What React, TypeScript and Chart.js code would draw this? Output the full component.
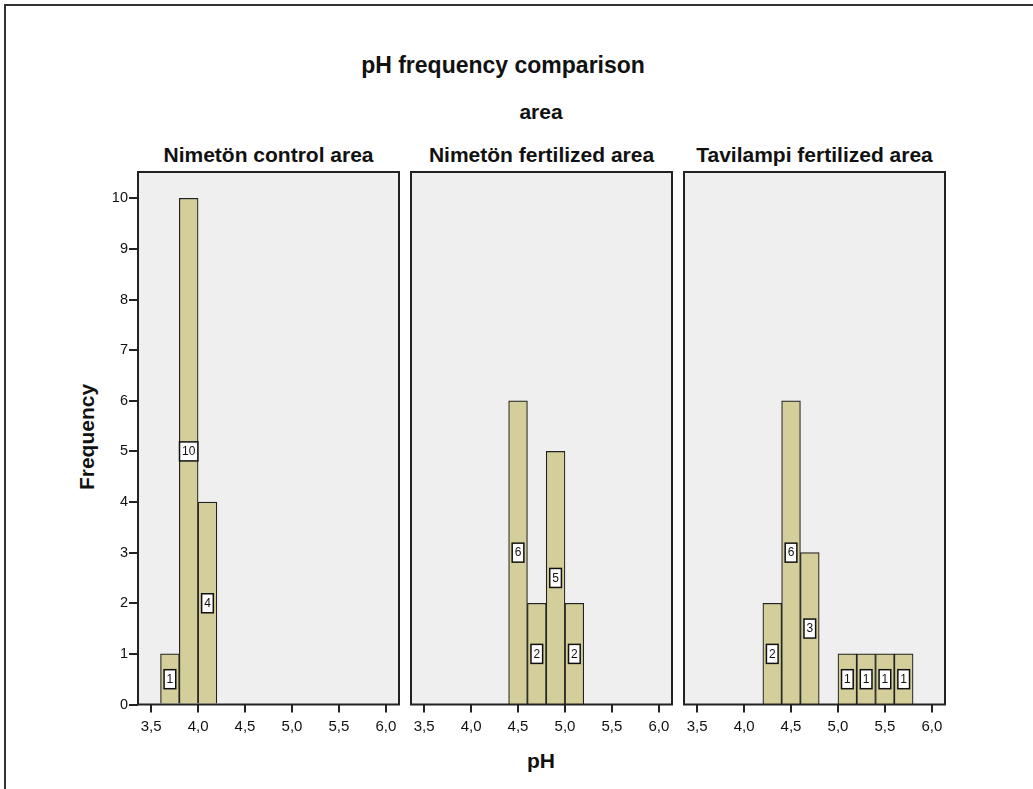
import { useEffect, useRef } from "react";
import { Chart, registerables } from "chart.js";

Chart.register(...registerables);

// ---- data ----
const chartTitle = "pH frequency comparison";
const facetTitle = "area";
const xAxisTitle = "pH";
const yAxisTitle = "Frequency";
const panelTitles = ["Nimetön control area", "Nimetön fertilized area", "Tavilampi fertilized area"];
const binWidth = 0.2;
const binStarts1 = [3.6, 3.8, 4.0];
const counts1 = [1, 10, 4];
const binStarts2 = [4.4, 4.6, 4.8, 5.0];
const counts2 = [6, 2, 5, 2];
const binStarts3 = [4.2, 4.4, 4.6, 5.0, 5.2, 5.4, 5.6];
const counts3 = [2, 6, 3, 1, 1, 1, 1];
const phTicks = [3.5, 4.0, 4.5, 5.0, 5.5, 6.0];
const freqTicks = [0, 1, 2, 3, 4, 5, 6, 7, 8, 9, 10];
const xMin = 3.36;
const xMax = 6.14;
const yMax = 10.52;

const panelBins = [binStarts1, binStarts2, binStarts3];
const panelCounts = [counts1, counts2, counts3];

// ---- layout ----
const FONT = "'Liberation Sans', Arial, Helvetica, sans-serif";
const panelLefts = [138, 411, 684];
const panelWidth = 261;
const canvasTop = 165;
const canvasHeight = 590;
const padTop = 7;
const xAxisHeight = 50.5;
const padRight = 4;
const barFill = "#D3CE9A";
const panelBg = "#EFEFEF";
const ink = "#222222";

const panelPlugin = {
  id: "panelDeco",
  beforeDraw(chart: any) {
    const { ctx, chartArea } = chart;
    ctx.save();
    ctx.fillStyle = panelBg;
    ctx.fillRect(chartArea.left, chartArea.top, chartArea.right - chartArea.left, chartArea.bottom - chartArea.top);
    ctx.restore();
  },
  afterDatasetsDraw(chart: any) {
    const { ctx, chartArea } = chart;
    ctx.save();
    ctx.strokeStyle = ink;
    ctx.lineWidth = 2;
    ctx.strokeRect(chartArea.left, chartArea.top, chartArea.right - chartArea.left, chartArea.bottom - chartArea.top);
    // value labels
    const meta = chart.getDatasetMeta(0);
    const ds = chart.data.datasets[0];
    const yScale = chart.scales.y;
    ctx.font = `12px ${FONT}`;
    ctx.textAlign = "center";
    ctx.textBaseline = "middle";
    meta.data.forEach((el: any, i: number) => {
      const v = ds.data[i].y;
      const txt = String(v);
      const cx = el.x;
      const cy = yScale.getPixelForValue(v / 2);
      const w = ctx.measureText(txt).width + 5;
      const h = 19;
      ctx.fillStyle = "#FFFFFF";
      ctx.fillRect(cx - w / 2, cy - h / 2, w, h);
      ctx.strokeStyle = "#111";
      ctx.lineWidth = 1.5;
      ctx.strokeRect(cx - w / 2, cy - h / 2, w, h);
      ctx.fillStyle = "#111";
      ctx.fillText(txt, cx, cy + 0.5);
    });
    ctx.restore();
  },
};

function Panel({ index }: { index: number }) {
  const ref = useRef<HTMLCanvasElement>(null);
  const showY = index === 0;
  const yW = showY ? 42 : 4;
  const left = panelLefts[index] - yW;
  const width = yW + panelWidth + padRight;

  useEffect(() => {
    const bins = panelBins[index];
    const counts = panelCounts[index];
    const chart = new Chart(ref.current as HTMLCanvasElement, {
      type: "bar",
      data: {
        datasets: [
          {
            data: bins.map((b, i) => ({ x: b + binWidth / 2, y: counts[i] })),
            backgroundColor: barFill,
            borderColor: ink,
            borderWidth: 1.2,
            borderSkipped: "start",
            barPercentage: 1,
            categoryPercentage: 1,
          } as any,
        ],
      },
      options: {
        responsive: false,
        animation: false,
        events: [],
        layout: { padding: { top: padTop, right: padRight, left: 0, bottom: 0 } },
        plugins: { legend: { display: false }, tooltip: { enabled: false }, title: { display: false } },
        scales: {
          x: {
            type: "linear",
            min: xMin,
            max: xMax,
            offset: false,
            border: { display: false },
            grid: { offset: false, drawOnChartArea: false, drawTicks: true, tickLength: 8, color: ink, lineWidth: 2 },
            ticks: {
              font: { family: FONT, size: 15 },
              color: "#111",
              padding: 5,
              maxRotation: 0,
              autoSkip: false,
              callback: (v: any) => Number(v).toFixed(1).replace(".", ","),
            },
            afterBuildTicks: (s: any) => {
              s.ticks = phTicks.map((v) => ({ value: v }));
            },
            afterFit: (s: any) => {
              s.height = xAxisHeight;
              s.paddingLeft = 0;
              s.paddingRight = 0;
            },
          },
          y: {
            type: "linear",
            min: 0,
            max: yMax,
            border: { display: false },
            grid: { display: showY, drawOnChartArea: false, drawTicks: true, tickLength: 9, color: ink, lineWidth: 2 },
            ticks: {
              display: showY,
              font: { family: FONT, size: 14.5 },
              color: "#111",
              padding: 1,
              callback: (v: any) => String(v),
            },
            afterBuildTicks: (s: any) => {
              s.ticks = freqTicks.map((v) => ({ value: v }));
            },
            afterFit: (s: any) => {
              s.width = yW;
              s.paddingTop = 0;
              s.paddingBottom = 0;
            },
          },
        },
      } as any,
      plugins: [panelPlugin],
    });
    return () => chart.destroy();
  }, [index]);

  return (
    <canvas
      ref={ref}
      width={width}
      height={canvasHeight}
      style={{ position: "absolute", left, top: canvasTop, width, height: canvasHeight }}
    />
  );
}

function Label({ text, x, y, size, rotate }: { text: string; x: number; y: number; size: number; rotate?: boolean }) {
  return (
    <div
      style={{
        position: "absolute",
        left: x,
        top: y,
        transform: `translate(-50%, -50%)${rotate ? " rotate(-90deg)" : ""}`,
        fontFamily: FONT,
        fontWeight: "bold",
        fontSize: size,
        lineHeight: 1,
        whiteSpace: "nowrap",
        color: "#111",
      }}
    >
      {text}
    </div>
  );
}

export default function App() {
  return (
    <div style={{ position: "absolute", left: 0, top: 0, width: 1033, height: 789, overflow: "hidden", background: "#fff" }}>
      <div
        style={{
          position: "absolute",
          left: 4,
          top: 4,
          width: 1200,
          height: 1000,
          borderLeft: "2px solid #333",
          borderTop: "2px solid #333",
        }}
      />
      <Label text={chartTitle} x={503} y={65} size={23} />
      <Label text={facetTitle} x={541} y={111} size={21} />
      {panelTitles.map((t, i) => (
        <Label key={t} text={t} x={panelLefts[i] + panelWidth / 2} y={154} size={21} />
      ))}
      <Label text={yAxisTitle} x={86} y={437} size={21} rotate />
      <Label text={xAxisTitle} x={541} y={760} size={21} />
      {[0, 1, 2].map((i) => (
        <Panel key={i} index={i} />
      ))}
    </div>
  );
}
